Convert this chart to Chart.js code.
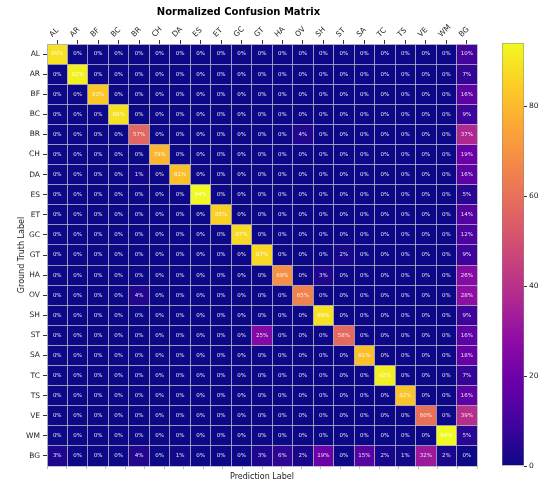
<!DOCTYPE html>
<html>
<head>
<meta charset="utf-8">
<script src="https://cdn.jsdelivr.net/npm/chart.js@4.4.0/dist/chart.umd.min.js"></script>
<style>
  html, body { margin: 0; padding: 0; background: #fff; }
  #wrap { position: relative; width: 544px; height: 485px; }
  #matrix { position: absolute; left: 0; top: 0; }
  #cbar { position: absolute; left: 490px; top: 0; }
</style>
</head>
<body>
<div id="wrap">
  <canvas id="matrix" width="544" height="485"></canvas>
  <canvas id="cbar" width="54" height="485"></canvas>
</div>
<script>
// class names, used for both axes
var labels = ['AL','AR','BF','BC','BR','CH','DA','ES','ET','GC','GT','HA','OV','SH','ST','SA','TC','TS','VE','WM','BG'];

// one row per ground truth class, percent per predicted class
var rowAL = [89,0,0,0,0,0,0,0,0,0,0,0,0,0,0,0,0,0,0,0,10];
var rowAR = [0,92,0,0,0,0,0,0,0,0,0,0,0,0,0,0,0,0,0,0,7];
var rowBF = [0,0,83,0,0,0,0,0,0,0,0,0,0,0,0,0,0,0,0,0,16];
var rowBC = [0,0,0,89,0,0,0,0,0,0,0,0,0,0,0,0,0.4,0,0,0,9];
var rowBR = [0,0,0,0,57,0,0,0,0,0,0,0,4,0,0,0,0,0,0,0,37];
var rowCH = [0,0,0,0,0,79,0,0,0,0,0,0,0,0,0,0.4,0,0,0,0,19];
var rowDA = [0,0,0,0,1,0,81,0,0,0,0,0,0,0,0,0,0,0,0,0,16];
var rowES = [0,0,0,0,0,0,0,94,0,0,0,0,0,0,0,0,0,0,0,0,5];
var rowET = [0,0,0,0,0,0,0,0,85,0,0,0,0,0,0,0,0,0,0,0,14];
var rowGC = [0,0,0,0,0,0,0,0,0,87,0,0,0,0,0,0,0,0,0,0,12];
var rowGT = [0,0,0,0,0,0,0,0,0,0,87,0,0,0,2,0,0,0,0,0,9];
var rowHA = [0,0,0,0,0,0,0,0,0,0,0,69,0,3,0,0,0,0,0,0,26];
var rowOV = [0,0,0,0,4,0,0,0,0,0,0,0,65,0,0,0,0,0,0,0,28];
var rowSH = [0,0,0,0,0,0,0,0,0,0,0,0,0,89,0,0,0,0,0,0,9];
var rowST = [0,0,0,0,0,0,0,0,0,0,25,0,0,0,58,0,0,0,0,0,16];
var rowSA = [0,0,0,0,0,0,0,0,0,0,0,0,0,0,0,81,0,0,0,0,18];
var rowTC = [0,0,0,0,0,0,0,0,0,0,0,0,0,0,0,0,92,0,0,0,7];
var rowTS = [0,0,0,0,0,0,0,0,0,0,0,0,0,0,0,0,0,82,0,0,16];
var rowVE = [0,0,0,0,0,0,0,0,0,0,0,0,0,0,0,0,0,0,60,0,39];
var rowWM = [0,0,0,0,0,0,0,0,0,0,0,0,0,0,0,0,0,0,0,94,5];
var rowBG = [3,0,0,0,4,0,1,0,0,0,3,6,2,19,0,15,2,1,32,2,0];

// colorbar tick labels
var cbarTicks = [0, 20, 40, 60, 80];

var rows = [rowAL,rowAR,rowBF,rowBC,rowBR,rowCH,rowDA,rowES,rowET,rowGC,rowGT,rowHA,rowOV,rowSH,rowST,rowSA,rowTC,rowTS,rowVE,rowWM,rowBG];
var vmax = Math.max.apply(null, rows.map(function(r) { return Math.max.apply(null, r); }));

// plasma colormap
var plasmaStops = ['#0d0887','#41049d','#6a00a8','#8f0da4','#b12a90','#cc4778','#e16462','#f2844b','#fca636','#fcce25','#f0f921'];
function hexRgb(h) {
	return [parseInt(h.substr(1,2),16), parseInt(h.substr(3,2),16), parseInt(h.substr(5,2),16)];
}
function plasma(t) {
	t = Math.max(0, Math.min(1, t));
	var idx = t * 10, i = Math.min(9, Math.floor(idx)), f = idx - i;
	var a = hexRgb(plasmaStops[i]), b = hexRgb(plasmaStops[i + 1]);
	return 'rgb(' + [0,1,2].map(function(k) { return Math.round(a[k] + (b[k] - a[k]) * f); }).join(',') + ')';
}

Chart.defaults.font.family = 'DejaVu Sans';
Chart.defaults.color = '#222';

var datasets = rows.map(function(vals, r) {
	return {
		data: vals.map(function(v, c) { return {x: c + 0.5, y: [r, r + 1]}; }),
		backgroundColor: vals.map(function(v) { return plasma(v / vmax); }),
		borderWidth: 0,
		barPercentage: 1,
		// min sample gap is half a cell because of the half-step ticks
		categoryPercentage: 2,
		grouped: false
	};
});

var lineGray = 'rgba(176,176,186,0.8)';

// ticks at cell borders (grid) and cell centers (labels)
function halfTicks(scale) {
	var t = [];
	for (var i = 0; i <= 42; i++) t.push({value: i / 2});
	scale.ticks = t;
}
function gridColor(ctx) { return Number.isInteger(ctx.tick.value) ? lineGray : 'rgba(0,0,0,0)'; }
function tickColor(ctx) { return Number.isInteger(ctx.tick.value) ? 'rgba(0,0,0,0)' : '#333'; }
function tickLabel(v) { return Number.isInteger(v) ? '' : labels[Math.floor(v)]; }

var cellText = {
	id: 'cellText',
	afterDatasetsDraw: function(chart) {
		var c = chart.ctx, xs = chart.scales.x, ys = chart.scales.y;
		c.save();
		c.font = '5.5px "DejaVu Sans"';
		c.fillStyle = 'rgba(255,255,255,0.88)';
		c.textAlign = 'center';
		c.textBaseline = 'middle';
		rows.forEach(function(vals, r) {
			vals.forEach(function(v, col) {
				c.fillText(Math.round(v) + '%', xs.getPixelForValue(col + 0.5), ys.getPixelForValue(r + 0.5));
			});
		});
		c.restore();
	}
};

new Chart(document.getElementById('matrix'), {
	type: 'bar',
	data: { datasets: datasets },
	plugins: [cellText],
	options: {
		responsive: false,
		animation: false,
		events: [],
		layout: { padding: { left: 0, right: 67, top: 0, bottom: 0 } },
		plugins: {
			legend: { display: false },
			tooltip: { enabled: false },
			title: { display: true, text: 'Normalized Confusion Matrix', color: '#000', font: { size: 10, weight: 'bold' }, padding: { top: 6, bottom: 0 } }
		},
		scales: {
			x: {
				type: 'linear', position: 'top', min: 0, max: 21, offset: false,
				afterBuildTicks: halfTicks,
				afterFit: function(s) { s.height = 26; },
				// grid above the cells
				grid: { z: 1, offset: false, color: gridColor, tickColor: tickColor, tickLength: 4 },
				border: { z: 1, color: lineGray },
				ticks: { autoSkip: false, minRotation: 45, maxRotation: 45, padding: 1, font: { size: 7.5 }, callback: tickLabel }
			},
			y: {
				type: 'linear', min: 0, max: 21, reverse: true,
				afterBuildTicks: halfTicks,
				afterFit: function(s) { s.width = 47; },
				grid: { z: 1, color: gridColor, tickColor: tickColor, tickLength: 4 },
				border: { z: 1, color: lineGray },
				ticks: { autoSkip: false, padding: 3, font: { size: 7.5 }, callback: tickLabel },
				title: { display: true, text: 'Ground Truth Label', font: { size: 8 }, padding: { top: 17, bottom: 0 } }
			},
			x2: {
				type: 'linear', position: 'bottom', min: 0, max: 21,
				afterBuildTicks: function(s) {
					var t = [];
					for (var i = 0; i <= 21; i++) t.push({value: i});
					s.ticks = t;
				},
				afterFit: function(s) { s.height = 19; },
				grid: { z: 1, drawOnChartArea: false, tickLength: 3, tickColor: lineGray },
				border: { display: false },
				ticks: { display: false },
				title: { display: true, text: 'Prediction Label', font: { size: 8 }, padding: { top: 0, bottom: 3 } }
			}
		}
	}
});

// colorbar
new Chart(document.getElementById('cbar'), {
	type: 'bar',
	data: {
		labels: [''],
		datasets: [{
			data: [[0, vmax]],
			backgroundColor: function(ctx) {
				var a = ctx.chart.chartArea;
				if (!a) return plasmaStops[0];
				var g = ctx.chart.ctx.createLinearGradient(0, a.bottom, 0, a.top);
				plasmaStops.forEach(function(s, i) { g.addColorStop(i / 10, s); });
				return g;
			},
			borderColor: '#888',
			borderWidth: 0.8,
			borderSkipped: false,
			barPercentage: 1,
			categoryPercentage: 1
		}]
	},
	options: {
		responsive: false,
		animation: false,
		events: [],
		layout: { padding: { left: 12, top: 43, bottom: 19, right: 0 } },
		plugins: { legend: { display: false }, tooltip: { enabled: false } },
		scales: {
			x: { display: false },
			y: {
				position: 'right', min: 0, max: vmax,
				afterBuildTicks: function(s) { s.ticks = cbarTicks.map(function(v) { return {value: v}; }); },
				afterFit: function(s) { s.width = 20; },
				grid: { drawOnChartArea: false, tickLength: 3, tickColor: '#333' },
				border: { display: false },
				ticks: { padding: 2, font: { size: 7.5 } }
			}
		}
	}
});
</script>
</body>
</html>
